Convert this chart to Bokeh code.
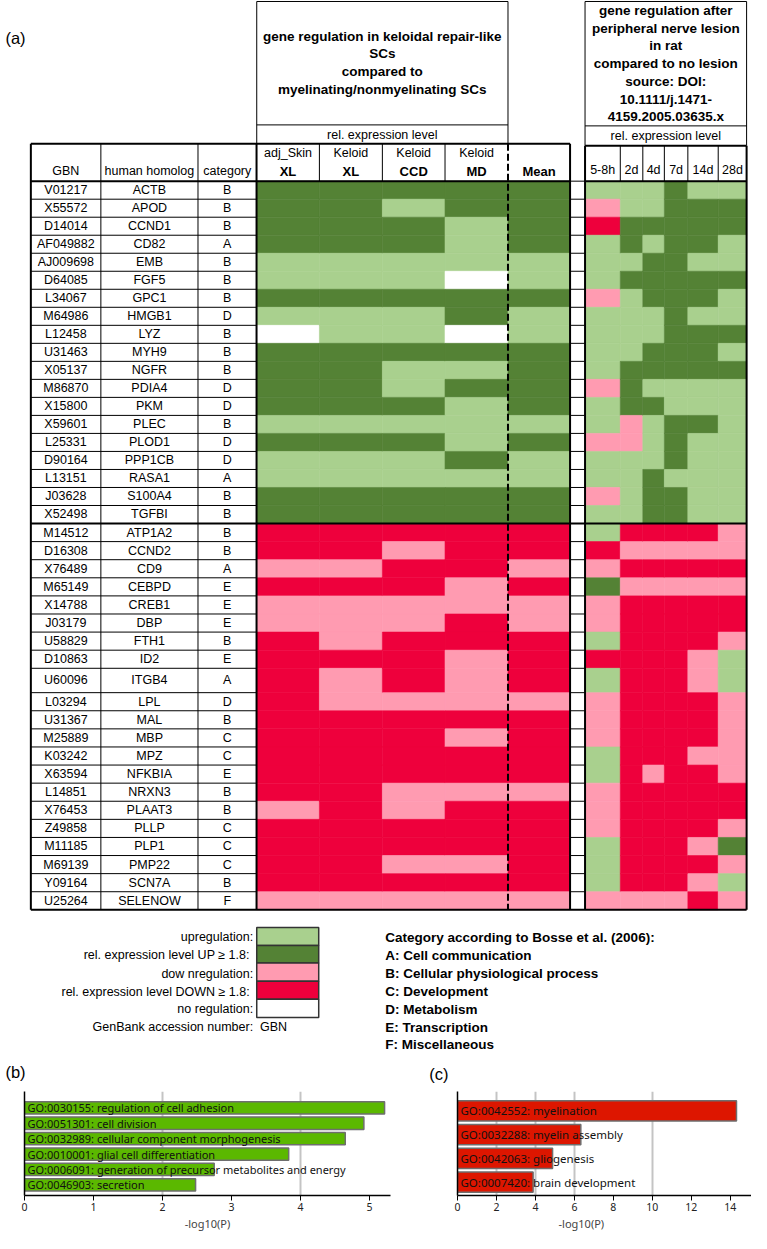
from bokeh.plotting import figure
from bokeh.layouts import column, row
from bokeh.models import Range1d, FixedTicker, Title
from bokeh.core.properties import value
from bokeh.embed import file_html
from bokeh.resources import INLINE

# ---------------- DATA ----------------
genbank = ["V01217", "X55572", "D14014", "AF049882", "AJ009698", "D64085", "L34067", "M64986",
           "L12458", "U31463", "X05137", "M86870", "X15800", "X59601", "L25331", "D90164",
           "L13151", "J03628", "X52498",
           "M14512", "D16308", "X76489", "M65149", "X14788", "J03179", "U58829", "D10863",
           "U60096", "L03294", "U31367", "M25889", "K03242", "X63594", "L14851", "X76453",
           "Z49858", "M11185", "M69139", "Y09164", "U25264"]
homolog = ["ACTB", "APOD", "CCND1", "CD82", "EMB", "FGF5", "GPC1", "HMGB1", "LYZ", "MYH9",
           "NGFR", "PDIA4", "PKM", "PLEC", "PLOD1", "PPP1CB", "RASA1", "S100A4", "TGFBI",
           "ATP1A2", "CCND2", "CD9", "CEBPD", "CREB1", "DBP", "FTH1", "ID2", "ITGB4", "LPL",
           "MAL", "MBP", "MPZ", "NFKBIA", "NRXN3", "PLAAT3", "PLLP", "PLP1", "PMP22", "SCN7A",
           "SELENOW"]
category = ["B", "B", "B", "A", "B", "B", "B", "D", "B", "B", "B", "D", "D", "B", "D", "D", "A", "B", "B",
            "B", "B", "A", "E", "E", "E", "B", "E", "A", "D", "B", "C", "C", "E", "B", "B", "C", "C", "C", "B", "F"]

# codes: U = UP >= 1.8, u = upregulation, d = downregulation, D = DOWN >= 1.8, n = no regulation
adj_skin_xl = "U U U U u u U u n U U U U u U u u U U D D d D d d D D D D D D D D D d D D D D d".split()
keloid_xl   = "U U U U u u U u u U U U U u U u u U U D D d D d d d D d d D D D D D D D D D D d".split()
keloid_ccd  = "U u U U u u U u u U u u U u U u u U U D d D D d d D D D d D D D D d d D D d D d".split()
keloid_md   = "U U u u u n U U n U u U u u u U u U U D D D d d D D d d d D d D D d D D D d D d".split()
mean_level  = "U U U U u u U u u U U U U u U u u U U D D d D d d D D D d D D D D d D D D D D d".split()
rat_5_8h = "u d D u u u d u u u u d u u d u u d u u D d U d d u D u d d d u u d d d u u u d".split()
rat_2d   = "u u U U u U u u u u U U U d d u u u u D d D d D D D D D D D D D D D D D D D D d".split()
rat_4d   = "u u U u U U U u u U U u U u u u U U U D d D d D D D D D D D D D d D D D D D D d".split()
rat_7d   = "U U U U U U U U U U U u u U U U u U U D d D d D D D D D D D D D D D D D D D D d".split()
rat_14d  = "u U U U u U U u U U U u u U u u u u u D d D d D D D d d D D D d D D D D d D d D".split()
rat_28d  = "u U U u u U u u U u U u u u u u u u u d d D d D D d u u d d d d d D D d U d u d".split()

keloid_top = ["adj_Skin", "Keloid", "Keloid", "Keloid"]
keloid_bottom = ["XL", "XL", "CCD", "MD"]
rat_labels = ["5-8h", "2d", "4d", "7d", "14d", "28d"]
keloid_title = ["gene regulation in keloidal repair-like", "SCs", "compared to",
                "myelinating/nonmyelinating SCs"]
rat_title = ["gene regulation after", "peripheral nerve lesion", "in rat", "compared to no lesion",
             "source: DOI:", "10.1111/j.1471-", "4159.2005.03635.x"]
legend_labels = ["upregulation:", "rel. expression level  UP \u2265 1.8:", "dow nregulation:",
                 "rel. expression level DOWN  \u2265 1.8:", "no regulation:"]
legend_codes = ["u", "U", "d", "D", "n"]
category_legend = ["Category according to Bosse et al. (2006):", "A: Cell communication",
                   "B: Cellular physiological process", "C: Development", "D: Metabolism",
                   "E: Transcription", "F: Miscellaneous"]

go_b_terms = ["GO:0030155: regulation of cell adhesion", "GO:0051301: cell division",
              "GO:0032989: cellular component morphogenesis", "GO:0010001: glial cell differentiation",
              "GO:0006091: generation of precursor metabolites and energy", "GO:0046903: secretion"]
go_b_values = [5.22, 4.92, 4.65, 3.83, 2.75, 2.48]
go_c_terms = ["GO:0042552: myelination", "GO:0032288: myelin assembly", "GO:0042063: gliogenesis",
              "GO:0007420: brain development"]
go_c_values = [14.32, 6.33, 4.88, 3.88]

# ---------------- STYLE / LAYOUT ----------------
colors = {"U": "#548235", "u": "#A9D08E", "d": "#FF9BB1", "D": "#EE003C", "n": "#FFFFFF"}
FONT = "Liberation Sans"
W, H = 751, 1233
REF_W, REF_H = 767, 1249
A_REF = 1100
HA = round(A_REF * H / REF_H)
HB = H - HA
WB = round(405 * W / REF_W)
WC = W - WB

left_edges = [31, 102.5, 201.7, 261.5]
heat_edges = [261.5, 325.7, 390, 454, 518.3, 581.7]
gap_edges = [581.7, 597]
rat_edges = [597, 633, 656, 678, 702, 733, 762]
HEAD_TOP, RAT_HEAD_TOP, HEAD_BOT = 145, 147, 183

n_up = sum(1 for c in mean_level if c in "Uu")
row_h = []
for i, g in enumerate(homolog):
    if g == "ITGB4":
        row_h.append(24.7)
    elif i < n_up:
        row_h.append(18.25)
    else:
        row_h.append(18.33)
row_top = []
y = HEAD_BOT
for h in row_h:
    row_top.append(y)
    y += h
row_bot = [t + h for t, h in zip(row_top, row_h)]
TABLE_BOT = row_bot[-1]
SEP = row_top[n_up]

pa = figure(width=W, height=HA, x_range=Range1d(0, REF_W), y_range=Range1d(A_REF, 0),
            output_backend="svg", toolbar_location=None, x_axis_location=None,
            y_axis_location=None, min_border=0, outline_line_color=None)
pa.grid.visible = False

keloid_cols = [adj_skin_xl, keloid_xl, keloid_ccd, keloid_md, mean_level]
rat_cols = [rat_5_8h, rat_2d, rat_4d, rat_7d, rat_14d, rat_28d]

# heat cells
L, R, T, B, C = [], [], [], [], []
for cols, edges in ((keloid_cols, heat_edges), (rat_cols, rat_edges)):
    for j, col in enumerate(cols):
        for i, code in enumerate(col):
            L.append(edges[j]); R.append(edges[j + 1])
            T.append(row_top[i]); B.append(row_bot[i])
            C.append(colors[code])
pa.quad(left=L, right=R, top=T, bottom=B, fill_color=C, line_color=C, line_width=0.6)

def seg(lst, x0, y0, x1, y1):
    lst[0].append(x0); lst[1].append(y0); lst[2].append(x1); lst[3].append(y1)

# thin lines
thin = ([], [], [], [])
for (xa, xb, ym, yb) in ((heat_edges[0] + 0.2, heat_edges[4], 126, HEAD_TOP),
                         (rat_edges[0], rat_edges[-1], 127, RAT_HEAD_TOP)):
    seg(thin, xa, 1, xb, 1)
    seg(thin, xa, ym, xb, ym)
    seg(thin, xa, 1, xa, yb)
    seg(thin, xb, 1, xb, yb)
for x in left_edges[1:3]:
    seg(thin, x, HEAD_TOP, x, TABLE_BOT)
for x in heat_edges[1:4]:
    seg(thin, x, HEAD_TOP, x, HEAD_BOT)
for x in rat_edges[1:-1]:
    seg(thin, x, RAT_HEAD_TOP, x, HEAD_BOT)
for i in range(len(homolog)):
    if i == 0 or i == n_up:
        continue
    seg(thin, left_edges[0], row_top[i], left_edges[-1], row_top[i])
for i in range(len(homolog)):
    seg(thin, gap_edges[0], row_top[i], gap_edges[1], row_top[i])
pa.segment(x0=thin[0], y0=thin[1], x1=thin[2], y1=thin[3], line_color="black", line_width=1)

# thick lines
thick = ([], [], [], [])
seg(thick, left_edges[0], HEAD_TOP, heat_edges[-1], HEAD_TOP)
seg(thick, rat_edges[0], RAT_HEAD_TOP, rat_edges[-1], RAT_HEAD_TOP)
seg(thick, left_edges[0], HEAD_BOT, heat_edges[-1], HEAD_BOT)
seg(thick, rat_edges[0], HEAD_BOT, rat_edges[-1], HEAD_BOT)
seg(thick, left_edges[0], SEP, rat_edges[-1], SEP)
seg(thick, left_edges[0], TABLE_BOT, rat_edges[-1], TABLE_BOT)
for x in (left_edges[0], left_edges[-1], heat_edges[-1]):
    seg(thick, x, HEAD_TOP, x, TABLE_BOT)
for x in (rat_edges[0], rat_edges[-1]):
    seg(thick, x, RAT_HEAD_TOP, x, TABLE_BOT)
pa.segment(x0=thick[0], y0=thick[1], x1=thick[2], y1=thick[3], line_color="black", line_width=2)
pa.segment(x0=[heat_edges[4]], y0=[HEAD_TOP], x1=[heat_edges[4]], y1=[TABLE_BOT],
           line_color="black", line_width=2, line_dash="7 3")

def txt(xs, ys, ts, size="12.5px", style="normal", align="center", font=FONT):
    pa.text(x=xs, y=ys, text=ts, text_align=align, text_baseline="middle",
            text_font=value(font), text_font_size=size, text_font_style=style, text_color="black")

def mid(e, j):
    return (e[j] + e[j + 1]) / 2

# row labels
ymid = [(t + b) / 2 for t, b in zip(row_top, row_bot)]
txt([mid(left_edges, 0)] * len(genbank), ymid, genbank)
txt([mid(left_edges, 1)] * len(homolog), ymid, homolog)
txt([mid(left_edges, 2)] * len(category), ymid, category)

# headers
txt([mid(left_edges, j) for j in range(3)], [173] * 3, ["GBN", "human homolog", "category"])
txt([mid(heat_edges, j) for j in range(4)], [154] * 4, keloid_top)
txt([mid(heat_edges, j) for j in range(4)] + [mid(heat_edges, 4)], [173] * 5,
    keloid_bottom + ["Mean"], size="13px", style="bold")
txt([mid(rat_edges, j) for j in range(6)], [172] * 6, rat_labels)
kc = (heat_edges[0] + heat_edges[4]) / 2
rc = (rat_edges[0] + rat_edges[-1]) / 2
txt([kc] * 4, [36, 54, 72, 90], keloid_title, size="13.5px", style="bold")
txt([rc] * 7, [10, 28, 46, 64, 82, 100, 118], rat_title, size="13.5px", style="bold")
txt([kc, rc], [136.5, 137], ["rel. expression level", "rel. expression level"])

# legend
lg_top = [939, 957.3, 975, 993.3, 1011.7]
lg_bot = [957.3, 975, 993.3, 1011.7, 1030]
pa.quad(left=261.7, right=325, top=lg_top, bottom=lg_bot,
        fill_color=[colors[c] for c in legend_codes], line_color="#333333", line_width=1.5)
txt([258] * 6, [949, 967, 986, 1004, 1022, 1040], legend_labels + ["GenBank accession number:"],
    align="right")
txt([265], [1040], ["GBN"], align="left")
txt([393] * 7, [949, 967, 986, 1004, 1022, 1040, 1057], category_legend, size="13.5px",
    style="bold", align="left")

# panel letters
txt([5, 5, 438], [38, 1085, 1087], ["(a)", "(b)", "(c)"], size="16.5px", align="left")

# ---------------- GO bar charts ----------------
BAR_FONT = "Noto Sans"

def bar_fig(width, terms, vals, xmax, ticks, grid, yr, bh, fill, left_border, right_border,
            tsize):
    p = figure(width=width, height=HB, x_range=Range1d(0, xmax), y_range=yr,
               output_backend="svg", toolbar_location=None, min_border_left=left_border,
               min_border_right=right_border, min_border_top=5, min_border_bottom=35,
               outline_line_color=None)
    idx = list(range(len(terms)))
    p.hbar(y=idx, left=0, right=vals, height=bh, fill_color=fill, line_color="#6E6E6E",
           line_width=1.5)
    p.text(x=[0] * len(terms), y=idx, text=terms, x_offset=3, text_baseline="middle",
           text_align="left", text_font=value(BAR_FONT), text_font_size=tsize,
           text_color="#111111")
    p.xaxis.ticker = FixedTicker(ticks=ticks)
    p.xaxis.major_label_text_font = BAR_FONT
    p.xaxis.major_label_text_font_size = "10.5px"
    p.xaxis.major_label_text_color = "#222222"
    p.xaxis.major_label_standoff = 2
    p.xaxis.major_tick_in = 0
    p.xaxis.major_tick_out = 5
    p.xaxis.minor_tick_line_color = None
    p.xaxis.axis_line_width = 1.5
    p.yaxis.ticker = FixedTicker(ticks=[])
    p.yaxis.major_tick_line_color = None
    p.yaxis.minor_tick_line_color = None
    p.yaxis.axis_line_width = 1.5
    p.ygrid.visible = False
    p.xgrid.ticker = FixedTicker(ticks=grid)
    p.xgrid.grid_line_color = "#C4C4C4"
    p.xgrid.grid_line_width = 2
    return p

pb = bar_fig(WB, go_b_terms, go_b_values, 5.306, [0, 1, 2, 3, 4, 5], [2, 4],
             Range1d(5.69, -1.06), 0.8, "#5BB800", 24, 7, "11px")
pb.xaxis.axis_label = "-log10(P)"
pb.xaxis.axis_label_text_font_style = "normal"
pb.xaxis.axis_label_text_font = BAR_FONT
pb.xaxis.axis_label_text_font_size = "11px"
pb.xaxis.axis_label_standoff = 2

pc = bar_fig(WC, go_c_terms, go_c_values, 15.09, [0, 2, 4, 6, 8, 10, 12, 14], [2, 4, 6, 10],
             Range1d(3.56, -0.81), 0.85, "#DD1600", 60, 0, "11.5px")
pc.add_layout(Title(text="-log10(P)", align="left", offset=101, text_font=BAR_FONT,
                    text_font_size="11px", text_font_style="normal", standoff=0), "below")

layout = column(pa, row(pb, pc, spacing=0), spacing=0)
open("out.html", "w").write(file_html(layout, INLINE))
